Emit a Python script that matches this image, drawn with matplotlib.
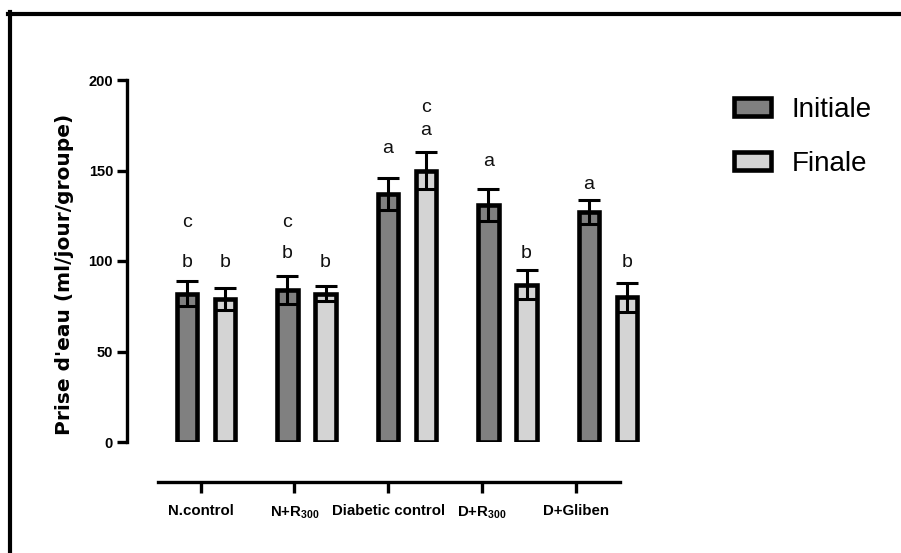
import matplotlib
matplotlib.use("Agg")
import matplotlib.pyplot as plt
import numpy as np
from matplotlib.lines import Line2D

# --- data -------------------------------------------------------------
groups = ["N.control", r"N+R$_{\mathregular{300}}$", "Diabetic control",
          r"D+R$_{\mathregular{300}}$", "D+Gliben"]
series = ["Initiale", "Finale"]
initiale = [82, 84, 137, 131, 127]
initiale_err = [7, 7.5, 9, 9, 6.5]
finale = [79, 82, 150, 87, 80]
finale_err = [6, 4, 10, 8, 8]

# significance letters: group index, series index (0 = Initiale), letter, y
letters_group = [0, 0, 0, 1, 1, 1, 2, 2, 2, 3, 3, 4, 4]
letters_series = [0, 0, 1, 0, 0, 1, 0, 1, 1, 0, 1, 0, 1]
letters_text = ["c", "b", "b", "c", "b", "b", "a", "c", "a", "a", "b", "a", "b"]
letters_y = [121, 99, 99, 121, 104, 99, 162, 185, 172, 155, 104, 142, 99]

yticks = [0, 50, 100, 150, 200]

# --- styling ----------------------------------------------------------
col_init = "#808080"
col_fin = "#d4d4d4"
narrow = ["Liberation Sans Narrow", "Liberation Sans", "DejaVu Sans"]
regular = ["Liberation Sans", "DejaVu Sans"]

W, H = 901, 553
fig = plt.figure(figsize=(W / 100, H / 100), dpi=100)


def fx(px):
    return px / W


def fy(py):
    return 1 - py / H


# main plotting axes (bars + y axis)
ax_l, ax_r, ax_t, ax_b = 127, 650, 80, 442
ax = fig.add_axes([fx(ax_l), fy(ax_b), fx(ax_r - ax_l), (ax_b - ax_t) / H])
x0, dx = 206, 100.5
ax.set_xlim((ax_l - x0) / dx, (ax_r - x0) / dx)
ax.set_ylim(0, 200)

x = np.arange(len(groups))
off = 0.19
bw = 0.205
lw_edge = 3.3
b1 = ax.bar(x - off, initiale, bw, color=col_init, edgecolor="black",
            linewidth=lw_edge, label=series[0], zorder=2)
b2 = ax.bar(x + off, finale, bw, color=col_fin, edgecolor="black",
            linewidth=lw_edge, label=series[1], zorder=2)
ax.errorbar(x - off, initiale, yerr=initiale_err, fmt="none", ecolor="black",
            elinewidth=2.2, capsize=8, capthick=2.2, zorder=3)
ax.errorbar(x + off, finale, yerr=finale_err, fmt="none", ecolor="black",
            elinewidth=2.2, capsize=8, capthick=2.2, zorder=3)

for g, s, t, yv in zip(letters_group, letters_series, letters_text, letters_y):
    xp = g + (-off if s == 0 else off)
    ax.text(xp, yv, t, ha="center", va="center", fontsize=14,
            family=regular, color="#111111")

for side in ["top", "right", "bottom"]:
    ax.spines[side].set_visible(False)
ax.spines["left"].set_linewidth(2.4)
ax.set_xticks([])
ax.set_yticks(yticks)
ax.tick_params(axis="y", length=7, width=2.4, pad=3, labelsize=10.5)
for lab in ax.get_yticklabels():
    lab.set_family(narrow)
    lab.set_fontweight("bold")

ax.set_ylabel("Prise d'eau (ml/jour/groupe)", fontsize=14.5,
              fontweight="bold", family=["DejaVu Sans"])
ax.yaxis.set_label_coords((65 - ax_l) / (ax_r - ax_l), (ax_b - 274) / (ax_b - ax_t))
ax.yaxis.label.set_va("center")

# separate category axis drawn below the bars
cx_l, cx_r, cy = 158, 620, 482
cax = fig.add_axes([fx(cx_l), fy(cy), fx(cx_r - cx_l), 0.001])
c0, cdx = 200.7, 93.75
cax.set_xlim((cx_l - c0) / cdx, (cx_r - c0) / cdx)
cax.set_ylim(0, 1)
cax.patch.set_visible(False)
for side in ["top", "right", "left"]:
    cax.spines[side].set_visible(False)
cax.spines["bottom"].set_linewidth(2.4)
cax.set_yticks([])
cax.set_xticks(x)
cax.set_xticklabels(groups)
cax.tick_params(axis="x", length=8, width=2.4, pad=8, labelsize=10.8)
for lab in cax.get_xticklabels():
    lab.set_family(narrow)
    lab.set_fontweight("bold")

# legend
leg = ax.legend(handles=[b1, b2], labels=series, loc="upper left",
                bbox_to_anchor=(fx(709), fy(72)), bbox_transform=fig.transFigure,
                frameon=False, handlelength=1.33, handleheight=0.62,
                handletextpad=0.75, labelspacing=1.0,
                prop={"family": regular, "size": 20})

# outer frame
fig.add_artist(Line2D([fx(8), fx(W)], [fy(13.5), fy(13.5)], color="black",
                      linewidth=3.0, transform=fig.transFigure))
fig.add_artist(Line2D([fx(10), fx(10)], [fy(12), fy(H)], color="black",
                      linewidth=3.0, transform=fig.transFigure))

fig.savefig("out.png", dpi=100)
